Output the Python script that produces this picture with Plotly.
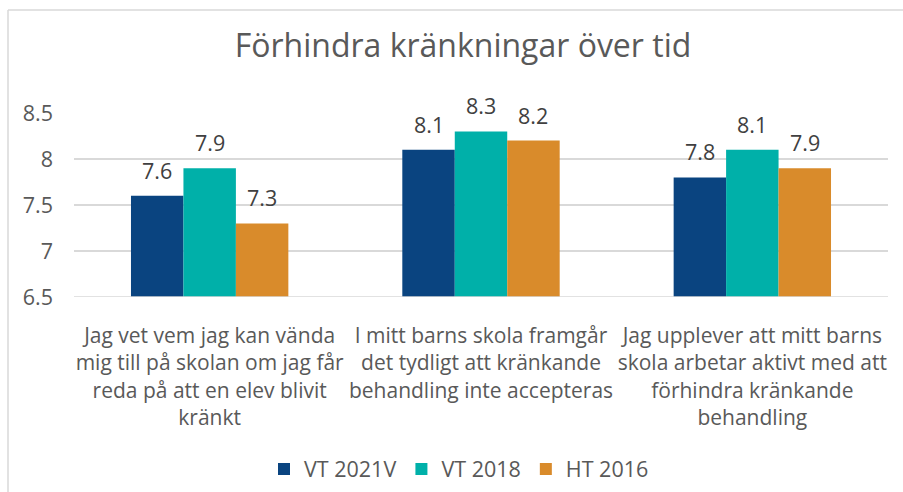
import plotly.graph_objects as go

categories = [
    "Jag vet vem jag kan vända<br>mig till på skolan om jag får<br>reda på att en elev blivit<br>kränkt",
    "I mitt barns skola framgår<br>det tydligt att kränkande<br>behandling inte accepteras",
    "Jag upplever att mitt barns<br>skola arbetar aktivt med att<br>förhindra kränkande<br>behandling",
]
series_names = ["VT 2021V", "VT 2018", "HT 2016"]
vt2021 = [7.6, 8.1, 7.8]
vt2018 = [7.9, 8.3, 8.1]
ht2016 = [7.3, 8.2, 7.9]
tick_vals = [6.5, 7, 7.5, 8, 8.5]
tick_text = ["6.5", "7", "7.5", "8", "8.5"]

colors = ["#0A4480", "#00B0A9", "#D98B2B"]
FONT = "'Open Sans', sans-serif"
FS = 21.5

W, H = 903, 492
L, R, T, B = 74, 15, 113, 195
pw = W - L - R
ph = H - T - B
bargap = 0.42
bar_px = pw / len(categories) * (1 - bargap) / len(series_names)

fig = go.Figure()
annotations = []
for i, (name, vals, col) in enumerate(zip(series_names, [vt2021, vt2018, ht2016], colors)):
    fig.add_trace(go.Bar(
        x=categories, y=vals, name=name, marker=dict(color=col, line=dict(width=0)),
        cliponaxis=False,
    ))
    for c, v in zip(categories, vals):
        annotations.append(dict(
            x=c, y=v, xref="x", yref="y", text=f"{v:.1f}", showarrow=False,
            xshift=(i - 1) * bar_px, yanchor="bottom", yshift=9,
            font=dict(size=FS, color="#404040", family=FONT),
        ))

fig.update_layout(
    width=W, height=H,
    paper_bgcolor="white", plot_bgcolor="white",
    margin=dict(l=L, r=R, t=T, b=B, autoexpand=False),
    barmode="group", bargap=bargap, bargroupgap=0,
    title=dict(text="Förhindra kränkningar över tid", x=(463 - L) / pw, xanchor="center",
               xref="paper", y=1 - 46 / H, yanchor="middle",
               font=dict(size=32, color="#595959", family=FONT)),
    font=dict(family=FONT, color="#595959"),
    showlegend=True,
    legend=dict(orientation="h", x=(459 - L) / pw, xanchor="center", yref="container",
                y=1 - 469 / H, yanchor="middle",
                font=dict(size=FS, color="#595959", family=FONT),
                traceorder="normal"),
    xaxis=dict(showgrid=False, showline=False, ticks="", ticklabelstandoff=24,
               tickangle=0,
               tickfont=dict(size=21, color="#595959", family=FONT)),
    yaxis=dict(range=[6.5, 8.5], tickvals=tick_vals, ticktext=tick_text,
               showgrid=True, gridcolor="#D9D9D9", gridwidth=1.5,
               zeroline=False, showline=False, ticks="", ticklabelstandoff=20,
               tickfont=dict(size=FS, color="#595959", family=FONT)),
    annotations=annotations,
    shapes=[
        dict(type="line", xref="paper", yref="paper",
             x0=(8 - L) / pw, x1=(910 - L) / pw,
             y0=(H - B - 10) / ph, y1=(H - B - 10) / ph,
             line=dict(color="#D9D9D9", width=1.5)),
        dict(type="line", xref="paper", yref="paper",
             x0=(8 - L) / pw, x1=(8 - L) / pw,
             y0=(H - B - 10) / ph, y1=(H - B - 500) / ph,
             line=dict(color="#D9D9D9", width=1.5)),
        dict(type="line", xref="paper", yref="y",
             x0=0, x1=1, y0=6.5, y1=6.5,
             line=dict(color="#D9D9D9", width=1.5), layer="above"),
    ],
)

fig.write_html("out.html", config={"displayModeBar": False},
               post_script="document.body.style.margin='0';document.body.style.overflow='hidden';")
